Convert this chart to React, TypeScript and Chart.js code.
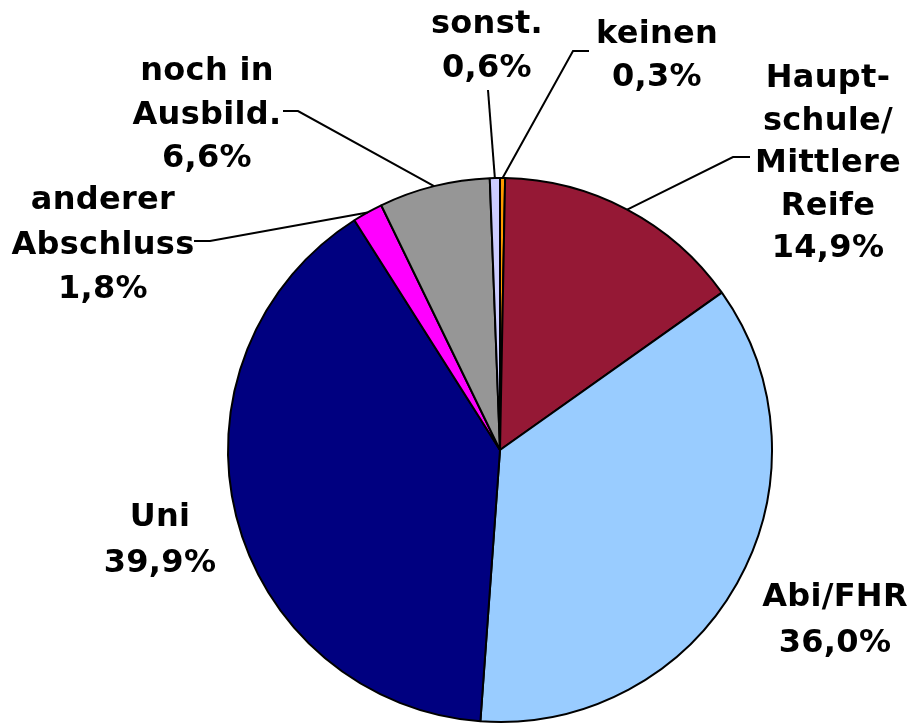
import React, { useEffect, useRef } from "react";
import { Chart, registerables } from "chart.js";

Chart.register(...registerables);

const categories = [
  "keinen",
  "Hauptschule/Mittlere Reife",
  "Abi/FHR",
  "Uni",
  "anderer Abschluss",
  "noch in Ausbild.",
  "sonst.",
];
const shares = [0.3, 14.9, 36.0, 39.9, 1.8, 6.6, 0.6];
const shareLabels = ["0,3%", "14,9%", "36,0%", "39,9%", "1,8%", "6,6%", "0,6%"];
const labelLines = [
  ["keinen"],
  ["Haupt-", "schule/", "Mittlere", "Reife"],
  ["Abi/FHR"],
  ["Uni"],
  ["anderer", "Abschluss"],
  ["noch in", "Ausbild."],
  ["sonst."],
];
const colors = ["#FF9900", "#951835", "#99CCFF", "#000080", "#FF00FF", "#969696", "#CCCCFF"];

// Label layout (text centre x, first baseline y, line height, leader elbow & end)
type Layout = { x: number; y: number; lh: number; elbow?: [number, number]; end?: [number, number] };
const labelLayout: Layout[] = [
  { x: 657, y: 43, lh: 43, elbow: [573, 51], end: [589, 51] },
  { x: 828, y: 87, lh: 42.5, elbow: [733, 157], end: [750, 157] },
  { x: 835, y: 606, lh: 46 },
  { x: 160, y: 526, lh: 46 },
  { x: 103, y: 209, lh: 44.5, elbow: [210, 241], end: [194, 241] },
  { x: 207, y: 80, lh: 43.5, elbow: [298, 111], end: [283, 111] },
  { x: 487, y: 33, lh: 44, elbow: [488, 90], end: [488, 90] },
];

const labelPlugin = {
  id: "outerLabels",
  afterDraw(chart: any) {
    const ctx = chart.ctx as CanvasRenderingContext2D;
    const meta = chart.getDatasetMeta(0);
    ctx.save();
    meta.data.forEach((arc: any, i: number) => {
      const L = labelLayout[i];
      const mid = (arc.startAngle + arc.endAngle) / 2;
      const ex = arc.x + Math.cos(mid) * arc.outerRadius;
      const ey = arc.y + Math.sin(mid) * arc.outerRadius;
      if (L.elbow && L.end) {
        ctx.beginPath();
        ctx.strokeStyle = "#000";
        ctx.lineWidth = 2;
        ctx.moveTo(ex, ey);
        ctx.lineTo(L.elbow[0], L.elbow[1]);
        ctx.lineTo(L.end[0], L.end[1]);
        ctx.stroke();
      }
      ctx.fillStyle = "#000";
      ctx.font = "bold 32px 'DejaVu Sans'";
      (ctx as any).letterSpacing = "0.3px";
      ctx.textAlign = "center";
      ctx.textBaseline = "alphabetic";
      const lines = [...labelLines[i], shareLabels[i]];
      lines.forEach((t, k) => {
        ctx.fillText(t, L.x, L.y + k * L.lh);
      });
    });
    ctx.restore();
  },
};

export default function App() {
  const ref = useRef<HTMLCanvasElement>(null);
  useEffect(() => {
    if (!ref.current) return;
    const chart = new Chart(ref.current, {
      type: "pie",
      data: {
        labels: categories,
        datasets: [
          {
            data: shares,
            backgroundColor: colors,
            borderColor: "#000",
            borderWidth: 2,
          },
        ],
      },
      options: {
        responsive: false,
        animation: false,
        devicePixelRatio: 1,
        layout: { padding: { left: 227, right: 141, top: 177, bottom: 1 } },
        plugins: {
          legend: { display: false },
          tooltip: { enabled: false },
        },
      },
      plugins: [labelPlugin],
    });
    return () => chart.destroy();
  }, []);
  return (
    <div style={{ position: "absolute", left: 0, top: 0, width: 914, height: 724, background: "#fff" }}>
      <canvas ref={ref} width={914} height={724} />
    </div>
  );
}
